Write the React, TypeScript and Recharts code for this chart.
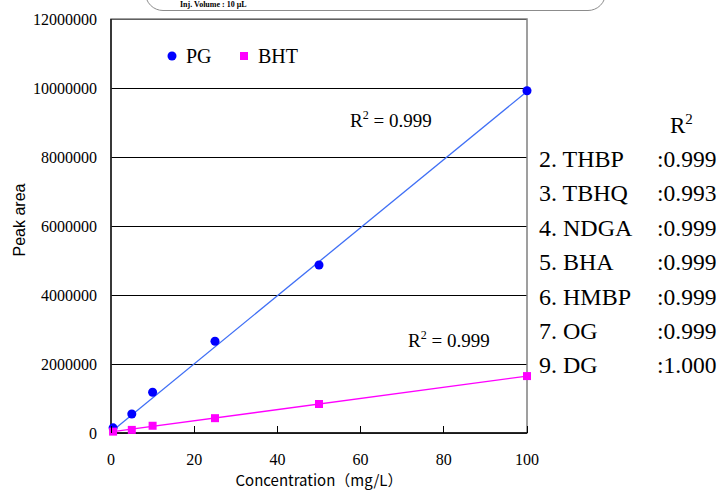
import React from "react";
import {
  ComposedChart,
  Line,
  Scatter,
  XAxis,
  YAxis,
  CartesianGrid,
  Legend,
  ReferenceArea,
} from "recharts";

// concentrations (mg/L) and peak areas
const concentrations = [0.5, 5, 10, 25, 50, 100];
const areaPG = [150000, 550000, 1180000, 2660000, 4870000, 9920000];
const areaBHT = [40000, 90000, 210000, 430000, 840000, 1650000];

// regression lines, end points
const fitX = [0, 100];
const fitPG = [30000, 9900000];
const fitBHT = [30000, 1650000];

const xTicks = [0, 20, 40, 60, 80, 100];
const yTicks = [0, 2000000, 4000000, 6000000, 8000000, 10000000, 12000000];

const seriesOrder = ["PG", "BHT"];

// right-hand table
const compounds = ["2. THBP", "3. TBHQ", "4. NDGA", "5. BHA", "6. HMBP", "7. OG", "9. DG"];
const r2Values = ["0.999", "0.993", "0.999", "0.999", "0.999", "0.999", "1.000"];

const pgData = concentrations.map((x, i) => ({ x, y: areaPG[i] }));
const bhtData = concentrations.map((x, i) => ({ x, y: areaBHT[i] }));
const pgFitData = fitX.map((x, i) => ({ x, y: fitPG[i] }));
const bhtFitData = fitX.map((x, i) => ({ x, y: fitBHT[i] }));

const serif = "'Liberation Serif', 'Times New Roman', serif";
const sans = "'Liberation Sans', Arial, sans-serif";

const XTick = (props: any) => {
  const { x, y, payload } = props;
  return (
    <g>
      <line x1={x} x2={x} y1={y} y2={y - 7} stroke="#000" shapeRendering="crispEdges" />
      <text x={x} y={y + 32} textAnchor="middle" fontFamily={serif} fontSize={16} fill="#000">
        {payload.value}
      </text>
    </g>
  );
};

const YLabel = (props: any) => {
  const { viewBox } = props;
  const cy = viewBox.y + viewBox.height / 2 - 6;
  return (
    <text
      x={25}
      y={cy}
      transform={`rotate(-90 25 ${cy})`}
      textAnchor="middle"
      fontFamily={sans}
      fontSize={16}
      fill="#000"
    >
      Peak area
    </text>
  );
};

const renderLegend = (props: any) => {
  const items = (props.payload || [])
    .filter((p: any) => p.type !== "none")
    .sort((a: any, b: any) => seriesOrder.indexOf(a.value) - seriesOrder.indexOf(b.value));
  return (
    <svg width={200} height={30}>
      {items.map((item: any, i: number) => {
        const cx = 12 + i * 72;
        return (
          <g key={item.value}>
            {item.type === "square" ? (
              <rect x={cx - 4} y={11} width={8} height={8} fill={item.color} />
            ) : (
              <circle cx={cx} cy={15} r={4.5} fill={item.color} />
            )}
            <text x={cx + 14} y={22} fontFamily={serif} fontSize={20} fill="#000">
              {item.value}
            </text>
          </g>
        );
      })}
    </svg>
  );
};

export default function App() {
  return (
    <div style={{ position: "fixed", left: 0, top: 0, width: 721, height: 491, background: "#fff", overflow: "hidden" }}>
      <ComposedChart
        width={721}
        height={491}
        margin={{ top: 19, right: 194, left: 0, bottom: 28 }}
        style={{ position: "absolute", left: 0, top: 0 }}
      >
        <CartesianGrid
          horizontal
          vertical={false}
          stroke="#000"
          strokeWidth={1}
          shapeRendering="crispEdges"
          horizontalValues={yTicks}
        />
        <ReferenceArea
          x1={0}
          x2={100}
          y1={0}
          y2={12000000}
          fill="none"
          fillOpacity={0}
          stroke="#808080"
          strokeWidth={1.5}
          ifOverflow="visible"
        />
        <XAxis
          type="number"
          dataKey="x"
          domain={[0, 100]}
          ticks={xTicks}
          height={30}
          tickSize={0}
          tickMargin={0}
          tickLine={false}
          axisLine={{ stroke: "#000", strokeWidth: 1.3 }}
          tick={<XTick />}
          label={{
            value: "Concentration（mg/L）",
            position: "bottom",
            offset: 12,
            style: { fontFamily: "'Noto Sans CJK JP', sans-serif", fontSize: 15, fill: "#000" },
          }}
        />
        <YAxis
          type="number"
          dataKey="y"
          domain={[0, 12000000]}
          ticks={yTicks}
          width={111}
          tickSize={0}
          tickMargin={14}
          tickLine={false}
          axisLine={{ stroke: "#000", strokeWidth: 1.3 }}
          tick={{ fontFamily: serif, fontSize: 16, fill: "#000" }}
          label={<YLabel />}
        />
        <Line
          data={pgFitData}
          dataKey="y"
          stroke="#3f6ff5"
          strokeWidth={1.3}
          dot={false}
          legendType="none"
          isAnimationActive={false}
        />
        <Line
          data={bhtFitData}
          dataKey="y"
          stroke="#ff00ff"
          strokeWidth={1.3}
          dot={false}
          legendType="none"
          isAnimationActive={false}
        />
        <Scatter name="PG" data={pgData} dataKey="y" fill="#0000ff" shape="circle" legendType="circle" isAnimationActive={false} />
        <Scatter name="BHT" data={bhtData} dataKey="y" fill="#ff00ff" shape="square" legendType="square" isAnimationActive={false} />
        <Legend
          layout="vertical"
          align="center"
          verticalAlign="middle"
          content={renderLegend}
          wrapperStyle={{ position: "absolute", left: 160, top: 41, width: 200, height: 30 }}
        />
      </ComposedChart>

      <div
        style={{
          position: "absolute",
          left: 145,
          top: -28,
          width: 461,
          height: 39,
          border: "1.5px solid #8c8c8c",
          borderRadius: 18,
          boxSizing: "border-box",
          background: "transparent",
        }}
      />
      <div
        style={{
          position: "absolute",
          left: 180,
          top: 1,
          fontFamily: serif,
          fontWeight: "bold",
          fontSize: 8,
          lineHeight: "8px",
          whiteSpace: "nowrap",
        }}
      >
        Inj. Volume : 10 μL
      </div>

      <svg width={721} height={491} style={{ position: "absolute", left: 0, top: 0, pointerEvents: "none" }}>
        <text x={350} y={127} fontFamily={serif} fontSize={19} fill="#000">
          R<tspan dy={-8} fontSize={12}>2</tspan>
          <tspan dy={8}> = 0.999</tspan>
        </text>
        <text x={408} y={347} fontFamily={serif} fontSize={19} fill="#000">
          R<tspan dy={-8} fontSize={12}>2</tspan>
          <tspan dy={8}> = 0.999</tspan>
        </text>
        <text x={670} y={133} fontFamily={serif} fontSize={23} fill="#000">
          R<tspan dy={-9} fontSize={15}>2</tspan>
        </text>
        {compounds.map((name, i) => (
          <g key={name}>
            <text x={539} y={167 + i * 34.4} fontFamily={serif} fontSize={24} fill="#000">
              {name}
            </text>
            <text x={657} y={167 + i * 34.4} fontFamily={serif} fontSize={23.5} fill="#000">
              :{r2Values[i]}
            </text>
          </g>
        ))}
      </svg>
    </div>
  );
}
